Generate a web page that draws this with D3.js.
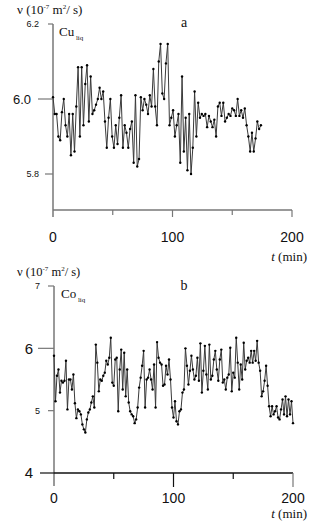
<!DOCTYPE html>
<html>
<head>
<meta charset="utf-8">
<script src="https://cdn.jsdelivr.net/npm/d3@7"></script>
<style>
  body { margin: 0; background: #fff; }
  svg { display: block; }
  .num { font-family: "Liberation Sans", Arial, sans-serif; fill: #111; }
  .lbl { font-family: "Liberation Serif", "Times New Roman", serif; fill: #111; }
</style>
</head>
<body>
<div id="chart"></div>
<script>
// Cu (liquid), one reading every 1.5 min from t = 0
const cuStep = 1.5;
const cuValues = [
  6.005, 5.96, 5.96, 5.90, 5.89, 5.965, 6.00, 5.93, 5.90, 5.96,
  5.85, 5.96, 5.86, 5.98, 6.085, 5.90, 6.085, 5.93, 6.04, 6.09,
  5.94, 6.06, 5.96, 5.97, 5.985, 6.00, 6.03, 6.00, 6.02, 5.94,
  5.87, 5.95, 6.00, 5.90, 5.87, 5.93, 5.88, 5.95, 6.01, 5.87,
  5.93, 5.91, 5.87, 5.92, 5.94, 5.83, 6.01, 5.82, 5.84, 6.005,
  5.97, 6.00, 5.985, 5.96, 6.01, 5.98, 6.08, 5.98, 5.93, 6.10,
  6.147, 6.015, 6.00, 6.095, 6.147, 5.93, 5.95, 5.97, 5.90, 5.93,
  5.96, 5.83, 6.06, 5.86, 5.95, 5.81, 5.96, 5.80, 5.87, 6.02,
  5.90, 5.99, 5.95, 5.96, 5.955, 5.96, 5.925, 5.955, 5.94, 5.925,
  5.945, 5.90, 5.98, 5.99, 5.955, 5.99, 5.94, 5.95, 5.96, 5.955,
  5.975, 5.97, 5.955, 6.00, 5.955, 5.97, 5.95, 5.975, 5.93, 5.90,
  5.86, 5.91, 5.86, 5.895, 5.94, 5.92, 5.93
];

// Co (liquid), one reading every 1.25 min from t = 0
const coStep = 1.25;
const coValues = [
  5.88, 5.15, 5.56, 5.66, 5.29, 5.48, 5.45, 5.48, 5.80, 5.02,
  5.50, 5.50, 5.34, 5.58, 5.12, 4.88, 5.02, 4.99, 4.94, 4.78,
  4.70, 4.65, 4.86, 4.97, 5.02, 5.13, 5.23, 5.05, 6.06, 5.77,
  5.31, 5.50, 5.48, 5.56, 5.61, 5.80, 5.74, 5.85, 6.17, 5.45,
  5.40, 5.82, 5.85, 4.99, 5.66, 5.98, 5.34, 5.93, 5.23, 5.66,
  5.13, 4.99, 4.94, 4.91, 4.80, 4.86, 5.05, 5.37, 5.53, 5.72,
  5.96, 5.05, 5.50, 5.53, 5.66, 5.50, 5.34, 5.74, 5.05, 6.10,
  5.85, 5.77, 5.74, 5.40, 5.42, 5.72, 5.58, 5.82, 5.50, 5.05,
  4.89, 5.15, 4.83, 4.78, 4.99, 5.02, 5.29, 5.34, 6.00, 5.72,
  5.42, 5.64, 5.88, 5.66, 5.50, 5.56, 5.85, 5.48, 6.08, 5.29,
  5.64, 6.04, 5.58, 5.34, 6.06, 5.50, 5.56, 5.82, 5.96, 5.66,
  5.48, 5.82, 5.98, 5.45, 5.50, 5.34, 5.53, 5.58, 6.01, 5.31,
  5.61, 5.53, 6.17, 5.77, 5.34, 5.74, 5.50, 6.09, 5.66, 5.80,
  5.85, 5.77, 5.96, 5.77, 5.96, 5.80, 6.12, 5.77, 5.64, 5.23,
  5.31, 5.48, 5.72, 5.40, 5.07, 4.91, 5.07, 4.94, 4.99, 5.07,
  4.89, 4.86, 5.02, 5.18, 4.94, 5.23, 4.91, 5.18, 4.94, 5.15,
  4.80
];

const xTicks = [0, 50, 100, 150, 200];
const xLabels = [0, 100, 200];
const cuTicks = ["6.2", "6.0", "5.8"];
const coTicks = ["7", "6", "5", "4"];

const W = 316, H = 521;
const svg = d3.select("#chart").append("svg").attr("width", W).attr("height", H);

function panel(opt) {
  const g = svg.append("g");
  const x = d3.scaleLinear().domain([0, 200]).range([opt.x0, opt.x0 + 239]);
  const y = d3.scaleLinear().domain(opt.yDomain).range(opt.yRange);
  const yBottom = opt.yRange[0];

  // y axis line (runs a bit below the x axis)
  g.append("line")
    .attr("x1", x(0)).attr("x2", x(0))
    .attr("y1", opt.yRange[1]).attr("y2", yBottom + opt.tail)
    .attr("stroke", "#777").attr("stroke-width", 1.5);

  // x axis line
  g.append("line")
    .attr("x1", x(0)).attr("x2", x(200))
    .attr("y1", yBottom).attr("y2", yBottom)
    .attr("stroke", opt.xColor).attr("stroke-width", 1.4);

  // x ticks: long at 100s, short at 50s
  g.selectAll(".xt").data(xTicks.filter((d) => d > 0)).enter()
    .append("line")
    .attr("x1", (d) => x(d)).attr("x2", (d) => x(d))
    .attr("y1", yBottom)
    .attr("y2", (d) => yBottom + (d % 100 === 0 ? opt.majorLen : opt.minorLen))
    .attr("stroke", (d) => (d === 200 ? "#777" : opt.xColor))
    .attr("stroke-width", 1.2);

  g.selectAll(".xl").data(xLabels).enter()
    .append("text")
    .attr("class", "num")
    .attr("x", (d) => x(d)).attr("y", opt.xLabelY)
    .attr("text-anchor", "middle")
    .style("font-size", "14px")
    .text((d) => d);

  // y ticks and labels; the whole number ones are drawn larger
  opt.yTicks.forEach((t, i) => {
    const big = opt.bigTicks.includes(t);
    const yy = y(+t);
    g.append("line")
      .attr("x1", x(0) - opt.tickLen[i]).attr("x2", x(0))
      .attr("y1", yy).attr("y2", yy)
      .attr("stroke", t === "4" ? "#111" : "#777").attr("stroke-width", 1.2);
    g.append("text")
      .attr("class", "num")
      .attr("x", big ? opt.bigLabelX : opt.smallLabelX)
      .attr("y", yy)
      .attr("dy", "0.35em")
      .attr("text-anchor", "end")
      .style("font-size", big ? opt.bigSize : "9px")
      .text(t);
  });

  // the series
  const line = d3.line()
    .x((d, i) => x(i * opt.step))
    .y((d) => y(d));
  g.append("path")
    .datum(opt.values)
    .attr("d", line)
    .attr("fill", "none")
    .attr("stroke", "#3a3a3a")
    .attr("stroke-width", 1);
  g.selectAll(".dot").data(opt.values).enter()
    .append("circle")
    .attr("cx", (d, i) => x(i * opt.step))
    .attr("cy", (d) => y(d))
    .attr("r", 1.2)
    .attr("fill", "#000");

  // titles
  const yt = g.append("text").attr("class", "lbl")
    .attr("x", 17).attr("y", opt.titleY).style("font-size", opt.titleSize);
  yt.append("tspan").text("ν (10");
  yt.append("tspan").attr("dy", -5).style("font-size", "7px").text("-7");
  yt.append("tspan").attr("dy", 5).text(" m");
  yt.append("tspan").attr("dy", -5).style("font-size", "7px").text("2");
  yt.append("tspan").attr("dy", 5).text("/ s)");

  const el = g.append("text").attr("class", "lbl")
    .attr("x", opt.elX).attr("y", opt.elY).style("font-size", "13px");
  el.append("tspan").text(opt.element);
  el.append("tspan").attr("dy", 4).style("font-size", "7px").text(" liq");

  g.append("text").attr("class", "lbl")
    .attr("x", 184).attr("y", opt.letterY)
    .attr("text-anchor", "middle")
    .style("font-size", "14px")
    .text(opt.letter);

  const tl = g.append("text").attr("class", "lbl")
    .attr("x", 307).attr("y", opt.tY)
    .attr("text-anchor", "end")
    .style("font-size", "13px");
  tl.append("tspan").style("font-style", "italic").text("t");
  tl.append("tspan").text(" (min)");
}

panel({
  x0: 53, yDomain: [5.704, 6.2], yRange: [210, 24],
  values: cuValues, step: cuStep,
  yTicks: cuTicks, bigTicks: ["6.0"], tickLen: [5, 15, 8],
  bigLabelX: 31, smallLabelX: 39, bigSize: "13px",
  xColor: "#777", tail: 7, majorLen: 7, minorLen: 5, xLabelY: 242,
  titleY: 14, titleSize: "13px",
  element: "Cu", elX: 59, elY: 36, letter: "a", letterY: 27, tY: 261
});

panel({
  x0: 54, yDomain: [4, 7], yRange: [473, 286],
  values: coValues, step: coStep,
  yTicks: coTicks, bigTicks: ["6", "4"], tickLen: [6, 16, 6, 14],
  bigLabelX: 33, smallLabelX: 40, bigSize: "15px",
  xColor: "#111", tail: 13, majorLen: 14, minorLen: 6, xLabelY: 503,
  titleY: 276, titleSize: "12.5px",
  element: "Co", elX: 61, elY: 298, letter: "b", letterY: 290, tY: 518
});
</script>
</body>
</html>
